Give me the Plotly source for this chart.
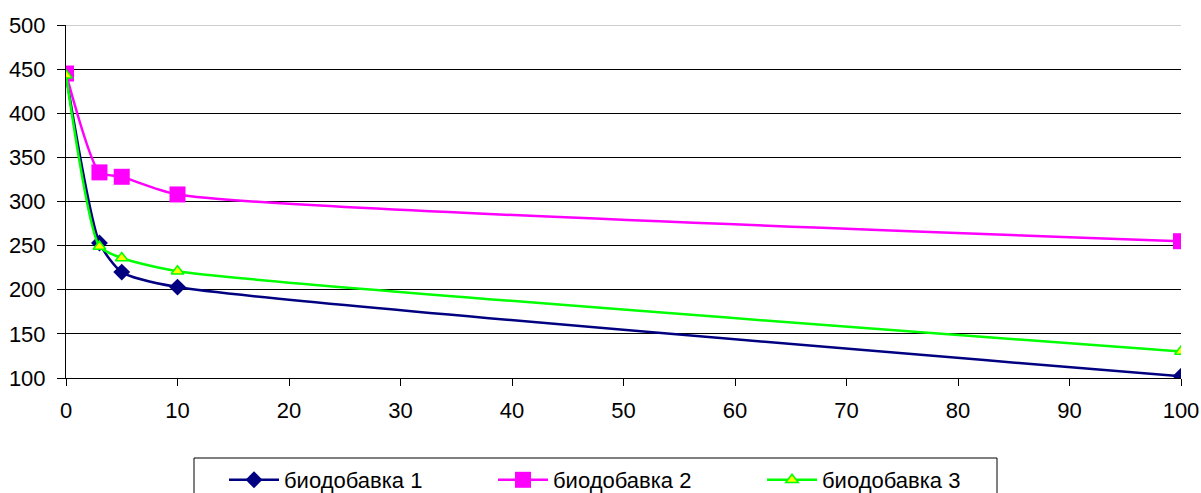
import plotly.graph_objects as go

# Concentration over time for three supplements
x_vals = [0, 3, 5, 10, 100]
bio1 = [443, 253, 220, 203, 102]
bio2 = [445, 333, 328, 308, 255]
bio3 = [443, 249, 236, 221, 130]
names = ["биодобавка 1", "биодобавка 2", "биодобавка 3"]

x_ticks = list(range(0, 101, 10))
y_ticks = list(range(100, 501, 50))

fig = go.Figure()

fig.add_trace(go.Scatter(
    x=x_vals, y=bio1, name=names[0], mode="lines+markers",
    line=dict(color="#000080", width=2.5, shape="spline", smoothing=0.6),
    marker=dict(symbol="diamond", size=13, color="#000080"),
))
fig.add_trace(go.Scatter(
    x=x_vals, y=bio2, name=names[1], mode="lines+markers",
    line=dict(color="#FF00FF", width=2.5, shape="spline", smoothing=0.6),
    marker=dict(symbol="square", size=16, color="#FF00FF"),
))
fig.add_trace(go.Scatter(
    x=x_vals, y=bio3, name=names[2], mode="lines+markers",
    line=dict(color="#00FF00", width=2.5, shape="spline", smoothing=0.6),
    marker=dict(symbol="triangle-up", size=11, color="#FFFF00",
                line=dict(color="#00FF00", width=1.5)),
))

# grey frame line along the top of the plot area
fig.add_shape(type="line", xref="paper", yref="y", x0=0, x1=1, y0=500, y1=500,
              line=dict(color="#A0A0A0", width=1), layer="above")

# frame around the legend, running past the bottom edge of the page
plot_h = 493 - 25 - 115
plot_w = 1201 - 66 - 20
fig.add_shape(type="rect", xref="paper", yref="paper",
              x0=(194 - 66) / plot_w, x1=(997 - 66) / plot_w,
              y0=-(510 - 378) / plot_h, y1=-(458 - 378) / plot_h,
              line=dict(color="black", width=1), fillcolor="rgba(0,0,0,0)")

fig.update_layout(
    width=1201, height=493,
    margin=dict(l=66, r=20, t=25, b=115, autoexpand=False),
    paper_bgcolor="white", plot_bgcolor="white",
    font=dict(family="Liberation Sans, Arial, sans-serif", size=22, color="black"),
    showlegend=True,
    legend=dict(
        orientation="h", xref="paper", yref="paper",
        x=(224 - 66) / plot_w, xanchor="left", y=-(459 - 378) / plot_h, yanchor="top",
        borderwidth=0, bgcolor="rgba(0,0,0,0)",
        font=dict(size=22), entrywidth=204, entrywidthmode="pixels",
        itemwidth=50,
    ),
)

fig.update_xaxes(
    range=[0, 100], tickvals=x_ticks, ticktext=[str(v) for v in x_ticks],
    showgrid=False, zeroline=False, showline=True, linecolor="black", linewidth=1,
    ticks="outside", ticklen=7, tickcolor="black", tickwidth=1,
    ticklabelstandoff=6,
)
fig.update_yaxes(
    range=[100, 500], tickvals=y_ticks, ticktext=[str(v) for v in y_ticks],
    showgrid=True, gridcolor="black", gridwidth=1, zeroline=False,
    showline=True, linecolor="black", linewidth=1,
    ticks="outside", ticklen=8, tickcolor="black", tickwidth=1,
    ticklabelstandoff=7,
)

fig.write_html("out.html")
